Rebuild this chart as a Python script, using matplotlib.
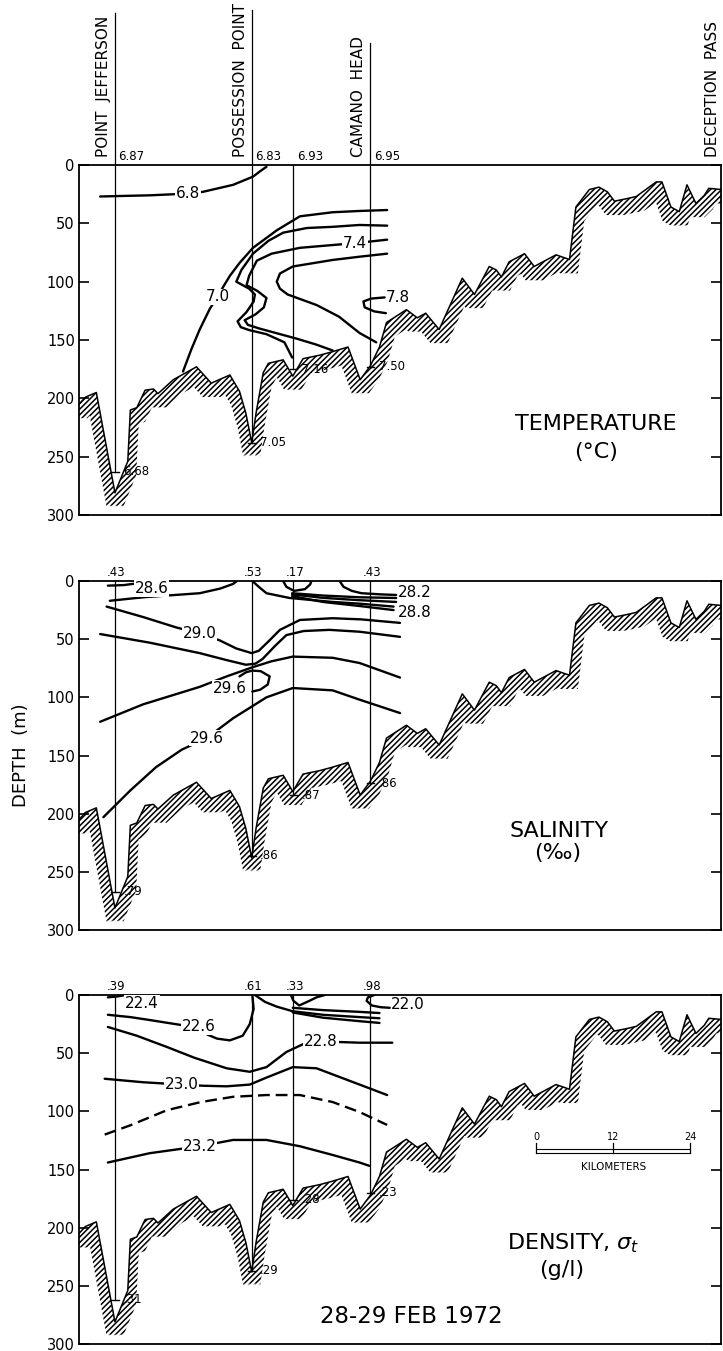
import matplotlib.pyplot as plt
import numpy as np

plt.rcParams['font.family'] = ['DejaVu Sans']
plt.rcParams['hatch.linewidth'] = 1.1

# bottom profile along the section (km from left edge, depth in m)
bottom_km = [0.0, 1.0, 2.7, 5.6, 7.6, 8.0, 9.0, 10.3, 11.6, 12.3, 14.7, 18.3, 20.6, 23.5, 25.0, 26.0,
             26.9, 27.6, 28.7, 29.5, 31.8, 33.3, 34.9, 37.5, 39.5, 41.9, 43.8, 45.4, 46.8, 47.9, 51.0,
             52.7, 54.0, 56.1, 59.7, 61.6, 63.9, 65.0, 65.8, 67.0, 69.4, 70.9, 74.3, 76.4, 77.4, 79.5,
             81.0, 82.3, 83.4, 85.2, 86.8, 88.3, 89.9, 90.8, 92.2, 93.5, 94.7, 96.1, 97.4, 98.1, 100.0]
bottom_depth = [205, 199, 195, 281, 254, 210, 208, 193, 192, 196, 184, 173, 187, 180, 194, 213,
                238, 212, 178, 170, 167, 181, 166, 163, 160, 156, 184, 172, 156, 135, 124,
                131, 127, 141, 97, 111, 87, 90, 96, 83, 76, 87, 77, 81, 36, 21,
                19, 23, 31, 29, 27, 21, 14.5, 14.5, 36, 40, 17, 33, 26, 20, 21]

# stations
station_km = [5.6, 26.9, 33.4, 45.4]
station_names = ['POINT  JEFFERSON', 'POSSESSION  POINT', '', 'CAMANO  HEAD']
station_name_top = [-130, -133, 0, -105]

temp_top = ['6.87', '6.83', '6.93', '6.95']
temp_bottom = ['6.68', '7.05', '7.16', '7.50']
temp_bottom_depth = [263, 238, 175, 173]

sal_top = ['.43', '.53', '.17', '.43']
sal_bottom = ['.79', '.86', '.87', '.86']
sal_bottom_depth = [267, 236, 184, 174]

dens_top = ['.39', '.61', '.33', '.98']
dens_bottom = ['.31', '.29', '.28', '.23']
dens_bottom_depth = [262, 237, 176, 170]

# temperature isotherms (km, depth)
t68 = [(3.3, 27), (7, 26.5), (11, 26), (17, 24.5), (19.3, 23), (24, 17), (27.1, 10), (28.3, 5), (29.2, 1.5)]
t70 = [(16.2, 177), (17.5, 158), (18.8, 141), (20.4, 123), (21.6, 113), (22.4, 105), (23.5, 95),
       (25, 84), (27.1, 71), (30.8, 56), (34.4, 44), (39.5, 40.5), (43.7, 39.4), (48, 38.6)]
t72 = [(48, 52), (43.7, 51.4), (39.5, 53), (35.5, 54), (31.8, 58), (29.5, 65), (27.1, 76), (25.3, 90),
       (24.5, 100), (26.5, 106), (27.4, 111), (27.2, 117), (26.1, 126), (24.7, 134), (25.2, 139),
       (26.5, 141.5), (29.2, 145), (32, 152), (33.2, 165)]
t74 = [(48, 64), (43, 67), (39.5, 68.6), (34.4, 71), (30, 76), (27.7, 82), (26.5, 95), (26.1, 103),
       (27.8, 108), (29.2, 114), (28.8, 122), (27.5, 128), (25.8, 133), (26.3, 137), (28, 140),
       (30, 143), (34, 149), (37, 154), (39.5, 159)]
t76 = [(48, 76), (43.7, 78.6), (39.5, 81.4), (33.3, 87), (31.3, 93), (30.8, 100), (31.3, 106),
       (32.5, 111), (37, 120), (40.5, 130), (43.7, 144), (46.3, 152)]
t78 = [(47.6, 113.5), (45.5, 114.5), (44.3, 117), (44.5, 122), (46, 125.5), (47.8, 127)]

# salinity isohalines (km, depth)
s286a = [(4.5, 4), (7, 3.5), (9, 2), (10.3, 0)]
s286b = [(4.8, 17), (10, 14), (15, 12), (18.8, 10.5), (22, 6.5), (24, 2.5), (24.6, 0)]
s282 = [(40.6, 0), (41.2, 5), (42.5, 8.5), (44, 10.5), (47, 11.5), (49.4, 12)]
s_mid = [(31.8, 0), (32.3, 5), (33.5, 8.5), (35.2, 7), (36, 3), (36.2, 0)]
s_b1 = [(33.2, 10.5), (38, 12.5), (43.7, 14), (49.4, 14.6)]
s_b2 = [(33.2, 11.5), (38, 14.5), (43.7, 16.5), (49.4, 18)]
s_b3 = [(27, 0), (28, 5), (29.2, 10.5), (32.8, 14.6), (39.5, 18), (43.7, 19.5), (49, 22)]
s288 = [(33.2, 13), (38, 18), (43.7, 21.5), (49, 25)]
s290 = [(4.3, 22), (10, 31), (15.2, 40), (18.8, 45), (21.9, 51), (24.5, 58), (26.9, 62), (28, 60),
        (29.5, 52), (31.3, 42), (34.4, 33.5), (39.5, 32), (44, 33), (50, 36)]
s292 = [(3.3, 45.6), (11, 53), (18.8, 62), (23, 68), (26, 72), (27.5, 71), (28.6, 67), (30.5, 56),
        (32.3, 46.5), (35, 43), (39, 42), (43.7, 43.6), (50, 48)]
s294 = [(3.3, 121), (10, 106), (18.8, 91), (23, 82), (27.1, 74), (30, 69), (33.3, 65), (39.5, 66),
        (43.7, 70.5), (50, 83)]
s296a = [(25, 82), (26, 78.5), (27, 77), (28.3, 77.5), (29.7, 82), (29.4, 89), (28.2, 93.5), (27, 95)]
s296b = [(3.8, 203), (8, 180), (12, 160), (16, 145), (19.9, 135), (24, 118), (29.2, 100), (33.3, 92),
         (39.5, 94), (43.7, 102), (50, 113.5)]

# density (sigma-t) lines (km, depth)
d224 = [(4.5, 2), (6, 1.2), (7.3, 0)]
d226 = [(4.5, 17), (8, 19), (11, 21.5), (15, 25), (18.5, 28), (20, 34), (21.5, 37.5), (23.5, 39),
        (25.5, 35), (26.6, 25), (27.2, 12), (27, 0)]
d_pp = [(27.4, 0), (29, 6), (30.8, 10), (33.3, 14), (38, 17), (43.7, 19), (46.8, 20)]
d_mid = [(33.0, 0), (33.4, 5), (34.3, 9), (35.9, 5), (37, 2), (38.3, 0)]
d_b1 = [(33.3, 11), (38, 13), (43.7, 14.5), (46.8, 15.5)]
d_b3 = [(33.3, 15), (38, 19.5), (43.7, 22.5), (46.8, 24)]
d220 = [(46, 0), (45, 2), (44.8, 5), (45.6, 9), (47, 10.5), (48.4, 11)]
d228 = [(4.5, 27.5), (9, 35), (13.7, 44.7), (18, 54), (23, 63), (26.6, 66), (29.2, 62), (32.3, 49),
        (35, 42), (37.8, 40), (41, 40.5), (43.7, 41), (48.8, 41)]
d230 = [(4, 72), (10, 75), (16, 77), (19.3, 78), (23, 78.5), (26.6, 77), (29.2, 71), (33.3, 62),
        (37, 63), (43.7, 77), (48, 86)]
d_dash = [(4, 120), (8, 112), (13.7, 99), (19, 92), (24, 87.5), (29.2, 86), (34.4, 86), (39.5, 92),
          (43.7, 100.6), (48, 111.7)]
d232 = [(4.5, 144), (11, 136), (18.8, 130), (24, 124.6), (29.2, 124.6), (34.4, 130), (39.5, 137.5),
        (43.7, 144), (45.3, 147)]

scale_km = [0, 12, 24]

W, H = 723, 1351
fig = plt.figure(figsize=(W / 100, H / 100), dpi=100)


def add_panel(top, bottom):
    ax = fig.add_axes([79 / W, 1 - bottom / H, (721 - 79) / W, (bottom - top) / H])
    ax.set_xlim(0, 100)
    ax.set_ylim(300, 0)
    ax.set_xticks([])
    ax.set_yticks([0, 50, 100, 150, 200, 250, 300])
    ax.tick_params(axis='y', direction='in', right=True, length=7, width=1.2, labelsize=10.5, pad=3)
    for sp in ax.spines.values():
        sp.set_linewidth(1.3)
    return ax


def draw_bottom(ax):
    # hatched strip just under the sea floor line
    xf = np.linspace(0, 100, 2001)
    df = np.interp(xf, bottom_km, bottom_depth)
    low = np.max([np.interp(xf + s, bottom_km, bottom_depth) for s in np.linspace(-1.3, 1.3, 15)], axis=0) + 12
    ax.fill_between(xf, df, low, facecolor='none', edgecolor='black', hatch='//////', linewidth=0)
    ax.plot(bottom_km, bottom_depth, color='black', lw=1.1)


def draw_stations(ax, tops, bots, bot_depth, left_labels):
    for km, t, b, d in zip(station_km, tops, bots, bot_depth):
        ax.plot([km, km], [0, d], color='black', lw=0.9)
        ax.plot([km - 0.6, km + 0.6], [d, d], color='black', lw=1.0)
        ax.text(km + 1.3, d, b, fontsize=8.5, ha='left', va='center')
        if left_labels:
            ax.annotate(t, xy=(km, 0), xytext=(2.5, 1.5), textcoords='offset points',
                        fontsize=8.5, ha='left', va='bottom', annotation_clip=False)
        else:
            ax.annotate(t, xy=(km, 0), xytext=(1, 1.5), textcoords='offset points',
                        fontsize=8.5, ha='center', va='bottom', annotation_clip=False)


def line(ax, pts, **kw):
    x, y = zip(*pts)
    style = dict(color='black', lw=1.7, solid_capstyle='round', solid_joinstyle='round')
    style.update(kw)
    ax.plot(x, y, **style)


def label(ax, x, y, s, ha='center'):
    ax.text(x, y, s, fontsize=11, ha=ha, va='center',
            bbox=dict(facecolor='white', edgecolor='none', pad=0.6))


ax1 = add_panel(165, 515)
ax2 = add_panel(581, 930)
ax3 = add_panel(995, 1344)

# ---- temperature ----
draw_bottom(ax1)
draw_stations(ax1, temp_top, temp_bottom, temp_bottom_depth, True)
for km, name, top in zip(station_km, station_names, station_name_top):
    if name:
        ax1.plot([km, km], [0, top], color='black', lw=0.9, clip_on=False)
        ax1.annotate(name, xy=(km, 0), xytext=(-3, 5.5), textcoords='offset points', rotation=90,
                     fontsize=11, ha='right', va='bottom', annotation_clip=False)
ax1.annotate('DECEPTION  PASS', xy=(100, 0), xytext=(-0.5, 5.5), textcoords='offset points',
             rotation=90, fontsize=11, ha='right', va='bottom', annotation_clip=False)
for pts in [t68, t70, t72, t74, t76, t78]:
    line(ax1, pts)
label(ax1, 17, 24.5, '6.8')
label(ax1, 21.6, 113, '7.0')
label(ax1, 43, 67, '7.4')
ax1.text(47.8, 113.5, '7.8', fontsize=11, ha='left', va='center')
ax1.text(80.5, 222, 'TEMPERATURE', fontsize=16, ha='center', va='center')
ax1.text(80.5, 246, '(°C)', fontsize=16, ha='center', va='center')

# ---- salinity ----
draw_bottom(ax2)
draw_stations(ax2, sal_top, sal_bottom, sal_bottom_depth, False)
for pts in [s286a, s286b, s282, s_mid, s_b1, s_b2, s_b3, s288, s290, s292, s294, s296a, s296b]:
    line(ax2, pts)
label(ax2, 11.3, 6.5, '28.6')
label(ax2, 18.8, 45, '29.0')
label(ax2, 23.5, 92, '29.6')
label(ax2, 19.9, 135, '29.6')
ax2.text(49.6, 10, '28.2', fontsize=11, ha='left', va='center')
ax2.text(49.6, 27.5, '28.8', fontsize=11, ha='left', va='center')
ax2.text(74.8, 215, 'SALINITY', fontsize=16, ha='center', va='center')
ax2.text(74.5, 234, '(‰)', fontsize=16, ha='center', va='center')
ax2.set_ylabel('DEPTH  (m)', fontsize=13, labelpad=12)

# ---- density ----
draw_bottom(ax3)
draw_stations(ax3, dens_top, dens_bottom, dens_bottom_depth, False)
for pts in [d224, d226, d_pp, d_mid, d_b1, d_b3, d220, d228, d230, d232]:
    line(ax3, pts)
line(ax3, d_dash, dashes=(5, 2.5))
label(ax3, 9.8, 7, '22.4')
label(ax3, 18.6, 27.5, '22.6')
label(ax3, 37.7, 40, '22.8')
label(ax3, 16, 77, '23.0')
label(ax3, 18.8, 130, '23.2')
ax3.text(48.6, 8.5, '22.0', fontsize=11, ha='left', va='center')
ax3.text(77, 213, r'DENSITY, $\sigma_t$', fontsize=16, ha='center', va='center')
ax3.text(75.2, 236, '(g/l)', fontsize=16, ha='center', va='center')
ax3.text(51.8, 276, '28-29 FEB 1972', fontsize=16.5, ha='center', va='center')

# scale bar
x0 = 71.2
ax3.plot([x0 + scale_km[0], x0 + scale_km[-1]], [132.5, 132.5], color='black', lw=0.8)
ax3.plot([x0 + scale_km[0], x0 + scale_km[-1]], [135.5, 135.5], color='black', lw=0.8)
for k in scale_km:
    ax3.plot([x0 + k, x0 + k], [127, 136], color='black', lw=0.9)
    ax3.text(x0 + k, 122, str(k), fontsize=7, ha='center', va='center')
ax3.text(x0 + 12, 148, 'KILOMETERS', fontsize=7.5, ha='center', va='center')

fig.savefig('out.png', dpi=100)
